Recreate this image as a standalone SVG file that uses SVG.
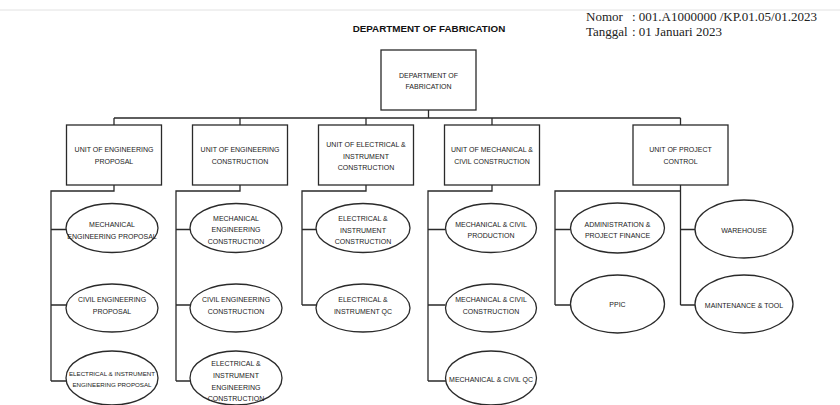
<svg xmlns="http://www.w3.org/2000/svg" width="840" height="405" viewBox="0 0 840 405">
<style>
.b{fill:#fff;stroke:#2a2a2a;stroke-width:1.3}
.c{fill:none;stroke:#2a2a2a;stroke-width:1.3}
.t{font-family:"Liberation Sans",Arial,sans-serif;font-size:7px;fill:#222;text-anchor:middle}
.s{font-size:6.2px}
.h{font-family:"Liberation Sans",Arial,sans-serif;font-size:9.8px;font-weight:bold;fill:#111;text-anchor:middle}
.n{font-family:"Liberation Serif","Times New Roman",serif;font-size:13px;fill:#222}
</style>
<rect width="840" height="405" fill="#fff"/>
<line x1="0" y1="10" x2="840" y2="10" stroke="#e2e2e2" stroke-width="1"/>
<text class="h" x="429" y="31.5">DEPARTMENT OF FABRICATION</text>
<g id="header-info">
<text class="n" x="586" y="21">Nomor</text>
<text class="n" x="632" y="21">: 001.A1000000 /KP.01.05/01.2023</text>
<text class="n" x="586" y="36">Tanggal</text>
<text class="n" x="632" y="36">: 01 Januari 2023</text>
</g>
<g id="connectors" class="c">
<path d="M428.5,110 V118 M114,118 H680.5 M114,118 V125 M240,118 V125 M366,118 V125 M492,118 V125 M680.5,118 V125"/>
<path d="M114,185 V191 H51 V381 M51,229.5 H66 M51,305 H66 M51,381 H67"/>
<path d="M240,185 V191 H176 V381 M176,229.5 H190 M176,305 H190 M176,381 H191"/>
<path d="M366,185 V191 H302 V305 M302,229.5 H316 M302,305 H316"/>
<path d="M492,185 V191 H428 V381 M428,229.5 H445.5 M428,305 H445.5 M428,381 H446"/>
<path d="M680.5,185 V305 M680.5,191 H555 V305 M555,229.5 H570.5 M555,305 H570.5 M680.5,229.5 H695 M680.5,305 H695"/>
</g>
<g id="dept">
<rect class="b" x="381" y="50" width="95" height="60"/>
<text class="t" x="428.5" y="77.5">DEPARTMENT OF</text>
<text class="t" x="428.5" y="88.5">FABRICATION</text>
</g>
<g id="unit-eng-proposal">
<rect class="b" x="66.5" y="125" width="95" height="60"/>
<text class="t" x="114" y="152">UNIT OF ENGINEERING</text>
<text class="t" x="114" y="163.5">PROPOSAL</text>
</g>
<g id="unit-eng-construction">
<rect class="b" x="192.5" y="125" width="95" height="60"/>
<text class="t" x="240" y="152">UNIT OF ENGINEERING</text>
<text class="t" x="240" y="163.5">CONSTRUCTION</text>
</g>
<g id="unit-ei-construction">
<rect class="b" x="318.5" y="125" width="95" height="60"/>
<text class="t" x="366" y="147">UNIT OF ELECTRICAL &amp;</text>
<text class="t" x="366" y="158.5">INSTRUMENT</text>
<text class="t" x="366" y="170">CONSTRUCTION</text>
</g>
<g id="unit-mc-construction">
<rect class="b" x="444.5" y="125" width="95" height="60"/>
<text class="t" x="492" y="152">UNIT OF MECHANICAL &amp;</text>
<text class="t" x="492" y="163.5">CIVIL CONSTRUCTION</text>
</g>
<g id="unit-project-control">
<rect class="b" x="633" y="125" width="95" height="60"/>
<text class="t" x="680.5" y="152">UNIT OF PROJECT</text>
<text class="t" x="680.5" y="163.5">CONTROL</text>
</g>
<g id="mech-eng-proposal">
<ellipse class="b" cx="112" cy="228" rx="46" ry="24.5"/>
<text class="t" x="112" y="226.5">MECHANICAL</text>
<text class="t" x="112" y="238.5">ENGINEERING PROPOSAL</text>
</g>
<g id="civil-eng-proposal">
<ellipse class="b" cx="112" cy="308" rx="46" ry="24"/>
<text class="t" x="112" y="301.5">CIVIL ENGINEERING</text>
<text class="t" x="112" y="313.5">PROPOSAL</text>
</g>
<g id="ei-eng-proposal">
<ellipse class="b" cx="112" cy="378" rx="46" ry="27"/>
<text class="t s" x="112" y="375.5">ELECTRICAL &amp; INSTRUMENT</text>
<text class="t s" x="112" y="386.5">ENGINEERING PROPOSAL</text>
</g>
<g id="mech-eng-construction">
<ellipse class="b" cx="236" cy="228" rx="46" ry="24.5"/>
<text class="t" x="236" y="220.5">MECHANICAL</text>
<text class="t" x="236" y="232">ENGINEERING</text>
<text class="t" x="236" y="243.5">CONSTRUCTION</text>
</g>
<g id="civil-eng-construction">
<ellipse class="b" cx="236" cy="308" rx="46" ry="24"/>
<text class="t" x="236" y="301.5">CIVIL ENGINEERING</text>
<text class="t" x="236" y="313.5">CONSTRUCTION</text>
</g>
<g id="ei-eng-construction">
<ellipse class="b" cx="236" cy="378" rx="46" ry="27"/>
<text class="t" x="236" y="365.5">ELECTRICAL &amp;</text>
<text class="t" x="236" y="377.5">INSTRUMENT</text>
<text class="t" x="236" y="389.5">ENGINEERING</text>
<text class="t" x="236" y="400.5">CONSTRUCTION</text>
</g>
<g id="ei-construction">
<ellipse class="b" cx="363" cy="228" rx="47" ry="24.5"/>
<text class="t" x="363" y="220.5">ELECTRICAL &amp;</text>
<text class="t" x="363" y="232.5">INSTRUMENT</text>
<text class="t" x="363" y="244">CONSTRUCTION</text>
</g>
<g id="ei-qc">
<ellipse class="b" cx="363" cy="308" rx="47" ry="24"/>
<text class="t" x="363" y="301.5">ELECTRICAL &amp;</text>
<text class="t" x="363" y="313.5">INSTRUMENT QC</text>
</g>
<g id="mc-production">
<ellipse class="b" cx="491" cy="228" rx="45.5" ry="24.5"/>
<text class="t" x="491" y="226.5">MECHANICAL &amp; CIVIL</text>
<text class="t" x="491" y="238">PRODUCTION</text>
</g>
<g id="mc-construction">
<ellipse class="b" cx="491" cy="308" rx="45.5" ry="24"/>
<text class="t" x="491" y="301.5">MECHANICAL &amp; CIVIL</text>
<text class="t" x="491" y="313.5">CONSTRUCTION</text>
</g>
<g id="mc-qc">
<ellipse class="b" cx="491" cy="378" rx="45.5" ry="27"/>
<text class="t" x="491" y="382">MECHANICAL &amp; CIVIL QC</text>
</g>
<g id="admin-finance">
<ellipse class="b" cx="617.5" cy="228" rx="47" ry="25"/>
<text class="t" x="617.5" y="226.5">ADMINISTRATION &amp;</text>
<text class="t" x="617.5" y="238">PROJECT FINANCE</text>
</g>
<g id="ppic">
<ellipse class="b" cx="617.5" cy="304" rx="47" ry="29"/>
<text class="t" x="617.5" y="306.5">PPIC</text>
</g>
<g id="warehouse">
<ellipse class="b" cx="744" cy="229" rx="49" ry="29"/>
<text class="t" x="744" y="232.5">WAREHOUSE</text>
</g>
<g id="maintenance-tool">
<ellipse class="b" cx="744" cy="304" rx="49" ry="29"/>
<text class="t" x="744" y="307.5">MAINTENANCE &amp; TOOL</text>
</g>
</svg>
